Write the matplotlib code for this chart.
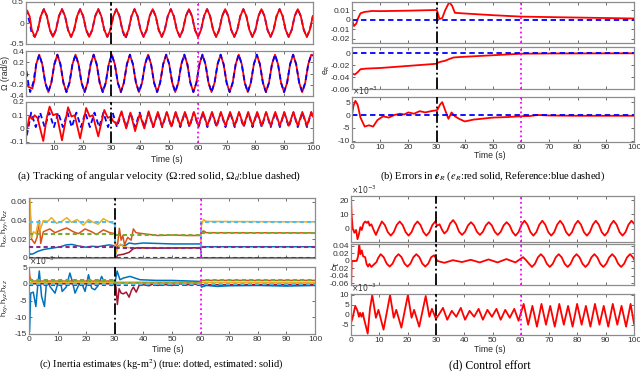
import matplotlib
matplotlib.use("Agg")
import matplotlib.pyplot as plt

plt.rcParams['font.family'] = ['Liberation Sans', 'DejaVu Sans']
plt.rcParams['axes.unicode_minus'] = False

# MATLAB default colour order
BLUE, ORANGE, YELLOW = '#0072BD', '#D95319', '#EDB120'
PURPLE, GREEN, CYAN, DRED = '#7E2F8E', '#77AC30', '#4DBEEE', '#A2142F'

switch_t = [30, 60]   # black dash-dot / magenta dotted markers

# ---------------- (a) angular velocity ----------------
# samples of the omega=1 waves every ~1/6 period (peak, half, -half, trough, ...)
a1_grid = [6.5, 7.55, 8.6, 9.65, 10.7, 11.75, 12.8, 13.85, 14.9, 15.95, 17.0, 18.05, 19.1, 20.15,
           21.2, 22.25, 23.3, 24.35, 25.4, 26.45, 27.5, 28.55, 29.6, 30.65, 31.7, 32.75, 33.8,
           34.85, 35.9, 36.95, 38.0, 39.05, 40.1, 41.15, 42.2, 43.25, 44.3, 45.35, 46.4, 47.45,
           48.5, 49.55, 50.6, 51.65, 52.7, 53.75, 54.8, 55.85, 56.9, 57.95, 59.0, 60.05, 61.1,
           62.15, 63.2, 64.25, 65.3, 66.35, 67.4, 68.45, 69.5, 70.55, 71.6, 72.65, 73.7, 74.75,
           75.8, 76.85, 77.9, 78.95, 80.0, 81.05, 82.1, 83.15, 84.2, 85.25, 86.3, 87.35, 88.4,
           89.45, 90.5, 91.55, 92.6, 93.65, 94.7, 95.75, 96.8, 97.85, 98.9, 99.95]
a1_start_t = [0, 0.7, 1.6, 2.3, 3.35, 4.4, 5.45]
a1_red = ([0.22, 0.30, 0.15, -0.16, -0.33, -0.165, 0.165]
          + [0.33, 0.165, -0.165, -0.33, -0.165, 0.165] * 15)
a1_blue = ([0.32, 0.25, 0.0, -0.25, -0.33, -0.165, 0.165]
           + [0.33, 0.165, -0.165, -0.33, -0.165, 0.165] * 4
           + [0.33, 0.165, -0.185, -0.37, -0.185, 0.165]
           + [0.33, 0.165, -0.165, -0.33, -0.165, 0.165] * 10)

a2_grid = [4.9, 5.95, 7.0, 8.05, 9.1, 10.15, 11.2, 12.25, 13.3, 14.35, 15.4, 16.45, 17.5, 18.55,
           19.6, 20.65, 21.7, 22.75, 23.8, 24.85, 25.9, 26.95, 28.0, 29.05, 30.1, 31.15, 32.2,
           33.25, 34.3, 35.35, 36.4, 37.45, 38.5, 39.55, 40.6, 41.65, 42.7, 43.75, 44.8, 45.85,
           46.9, 47.95, 49.0, 50.05, 51.1, 52.15, 53.2, 54.25, 55.3, 56.35, 57.4, 58.45, 59.5,
           60.55, 61.6, 62.65, 63.7, 64.75, 65.8, 66.85, 67.9, 68.95, 70.0, 71.05, 72.1, 73.15,
           74.2, 75.25, 76.3, 77.35, 78.4, 79.45, 80.5, 81.55, 82.6, 83.65, 84.7, 85.75, 86.8,
           87.85, 88.9, 89.95, 91.0, 92.05, 93.1, 94.15, 95.2, 96.25, 97.3, 98.35, 99.4, 100]
a2_wave = [0.335, 0.165, -0.165, -0.33, -0.165, 0.165] * 15 + [0.335, 0.32]
a2_red_start_t = [0, 0.6, 1.2, 1.75, 2.5, 3.2, 3.85]
a2_red_start = [-0.05, -0.2, -0.24, -0.25, -0.27, -0.12, 0.165]
a2_blue_start_t = [0, 0.6, 1.2, 1.75, 2.8, 3.85]
a2_blue_start = [0.2, 0.0, -0.2, -0.33, -0.165, 0.165]

a3_blue_t = [0, 2.1, 3.7, 5.2, 6.8, 8.4, 10.0, 11.5, 13.1, 14.7, 16.2, 17.8, 19.4, 20.9, 22.5,
             24.1, 25.7, 27.2, 28.8, 30.4, 31.9, 33.5, 35.1, 36.6, 38.2, 39.8, 41.4, 42.9, 44.5,
             46.1, 47.6, 49.2, 50.8, 52.3, 53.9, 55.5, 57.1, 58.6, 60.2, 61.8, 63.3, 64.9, 66.5,
             68.0, 69.6, 71.2, 72.8, 74.3, 75.9, 77.5, 79.0, 80.6, 82.2, 83.7, 85.3, 86.9, 88.5,
             90.0, 91.6, 93.2, 94.7, 96.3, 97.9, 99.4, 100]
a3_blue = [-0.12] + [0.12, 0.01] * 31 + [0.12, 0.08]
a3_red_t = [0, 0.7, 1.5, 2.5, 3.3, 4.3, 5.2, 6.3, 7.5, 8.5, 9.7, 10.9, 12.8, 14.9, 16.1, 17.2,
            19.1, 21.2, 22.4, 23.5, 25.4, 27.5, 28.7, 29.8, 30.4, 31.9, 33.5, 35.1, 36.6, 38.2,
            39.8, 41.4, 42.9, 44.5, 46.1, 47.6, 49.2, 50.8, 52.3, 53.9, 55.5, 57.1, 58.6, 60.2,
            61.8, 63.3, 64.9, 66.5, 68.0, 69.6, 71.2, 72.8, 74.3, 75.9, 77.5, 79.0, 80.6, 82.2,
            83.7, 85.3, 86.9, 88.5, 90.0, 91.6, 93.2, 94.7, 96.3, 97.9, 99.4, 100]
a3_red = ([-0.02, 0.0, 0.09, 0.07, 0.1, 0.08, 0.0, -0.095, 0.08, 0.165, 0.1, 0.11, -0.09, 0.16,
           0.09, 0.10, -0.075, 0.155, 0.09, 0.1, -0.06, 0.14, 0.08, 0.09,
           0.06, 0.03, 0.13, 0.0, 0.12, -0.02, 0.11, 0.0, 0.13, 0.01, 0.125, 0.015, 0.125, 0.015,
           0.125, 0.02, 0.125, 0.02, 0.125, 0.02] + [0.125, 0.02] * 12 + [0.125, 0.09])

# ---------------- (b) attitude errors ----------------
b1_t = [0, 0.7, 1.5, 2.2, 3.0, 4.5, 6.0, 7.0, 10, 20, 29.8, 30.2, 31.0, 32.0, 33.0, 34.5, 35.5,
        36.5, 40, 50, 60, 70, 80, 90, 100]
b1_y = [0.0, -0.0065, -0.004, 0.002, 0.007, 0.0085, 0.009, 0.0095, 0.0093, 0.0098, 0.0105,
        0.0095, 0.001, 0.002, 0.01, 0.019, 0.015, 0.0075, 0.0068, 0.005, 0.0035, 0.003, 0.0025,
        0.002, 0.0015]
b2_t = [0, 1.0, 2.0, 3.0, 5, 10, 20, 29.8, 30.3, 31.5, 33, 34.5, 36, 38, 45, 60, 70, 100]
b2_y = [-0.034, -0.036, -0.032, -0.027, -0.026, -0.025, -0.0215, -0.018, -0.0165, -0.0145,
        -0.013, -0.01, -0.0075, -0.0068, -0.005, -0.0012, -0.0008, -0.0005]
b3_t = [0, 0.5, 1.2, 2.0, 3.0, 4.5, 6.0, 7.5, 9.0, 11.0, 13.0, 15.0, 17.0, 18.5, 20.0, 22.0,
        24.0, 26.0, 28.0, 29.8, 30.3, 31.2, 32.0, 33.0, 34.2, 35.3, 36.5, 38.0, 40.0, 43.0, 50.0,
        55.0, 60.0, 63.0, 66.0, 70.0, 80.0, 100.0]
b3_y = [0, 3.5, 5.5, 4.0, -1.0, -4.5, -4.0, -4.5, -2.0, -0.5, -1.0, 0.0, 0.5, 0.2, 1.0, 0.5,
        1.5, 1.0, 1.5, 1.8, 2.0, 4.0, 5.0, 2.0, -1.5, 1.0, -0.5, -1.5, -2.5, -1.8, -1.0, -0.8,
        -0.5, -0.4, 0.0, -0.2, -0.3, -0.3]          # x 1e-3
ref_t = [0, 100]
ref_y = [0, 0]

# ---------------- (c) inertia estimates ----------------
true_t = [0, 30, 30, 60, 60, 100]
c1_true_cyan = [0.038, 0.038, 0.0, 0.0, 0.038, 0.038]
c1_true_green = [0.026, 0.026, 0.025, 0.025, 0.027, 0.027]
c1_true_purple = [0.012, 0.012, 0.011, 0.011, 0.012, 0.012]
c1_true_dred = [0, 0, 0, 0, 0, 0]

c1_yel_t = [0, 0.3, 0.9, 1.6, 2.4, 3.3, 3.9, 5.0, 6.5, 7.9, 9.6, 11.4, 13.2, 14.9, 16.8, 19.0,
            20.8, 22.5, 24.2, 26.0, 27.7, 30.0, 30.3, 31.0, 32.0, 33.0, 35.0, 40.0, 50.0, 55.0,
            60.0, 60.3, 61.0, 62.0, 100]
c1_yel = [0.045, 0.064, 0.022, 0.028, 0.026, 0.039, 0.030, 0.040, 0.039, 0.043, 0.037, 0.039,
          0.043, 0.038, 0.041, 0.035, 0.041, 0.038, 0.036, 0.042, 0.039, 0.036, 0.005, 0.010,
          0.015, 0.012, 0.011, 0.0105, 0.011, 0.0105, 0.011, 0.035, 0.041, 0.039, 0.0385]
c1_org_t = [0, 0.2, 0.9, 2.0, 2.8, 3.6, 4.1, 5.0, 7.3, 9.1, 11.4, 13.2, 15.5, 17.3, 19.6, 21.9,
            23.6, 26.0, 28.3, 30.0, 30.3, 31.0, 31.6, 32.2, 32.8, 33.4, 34.5, 35.7, 36.5, 37.4,
            39.7, 45.0, 50.0, 55.0, 60.0, 60.3, 61.0, 62.0, 100]
c1_org = [0.02, 0.06, 0.02, 0.0155, 0.022, 0.04, 0.0155, 0.028, 0.031, 0.027, 0.030, 0.032,
          0.028, 0.026, 0.031, 0.028, 0.025, 0.030, 0.027, 0.026, 0.012, 0.015, 0.0316, 0.019,
          0.024, 0.014, 0.022, 0.019, 0.031, 0.027, 0.026, 0.024, 0.0245, 0.024, 0.024, 0.027,
          0.029, 0.027, 0.0268]
c1_blu_t = [0, 0.5, 1.5, 3.0, 5.0, 8.0, 11.0, 13.0, 15.0, 17.0, 20.0, 22.0, 24.0, 26.0, 28.0,
            30.0, 30.3, 31.0, 32.0, 33.5, 35.0, 37.0, 40.0, 50.0, 60.0, 60.3, 100]
c1_blu = [0.006, 0.004, 0.0045, 0.007, 0.009, 0.0105, 0.012, 0.014, 0.0145, 0.013, 0.0115,
          0.0125, 0.012, 0.013, 0.014, 0.013, 0.004, 0.012, 0.014, 0.013, 0.016, 0.015, 0.016,
          0.015, 0.015, 0.012, 0.012]
c1_dred_t = [0, 30, 30.3, 31, 33, 35, 36.5, 38, 45, 60, 60.3, 100]
c1_dred = [0, 0, 0.0, 0.003, 0.004, 0.006, 0.01, 0.011, 0.0105, 0.011, 0, 0]

c2_true_green = [1.0, 1.0, 0.3, 0.3, 1.0, 1.0]      # x 1e-3
c2_true_purple = [-0.5, -0.5, -0.5, -0.5, -0.5, -0.5]
c2_true_cyan = [0, 0, 0, 0, 0, 0]
c2_blu_t = [0, 0.2, 0.6, 1.5, 2.4, 3.0, 3.6, 4.4, 5.4, 6.2, 7.3, 9.1, 10.2, 10.9, 11.6, 13.0,
            14.3, 15.2, 16.1, 17.3, 18.4, 19.6, 20.8, 21.9, 23.0, 24.2, 25.4, 26.5, 27.7, 28.8,
            30.0, 30.8, 31.8, 33.0, 35.3, 38.8, 44.6, 50.0, 59.8, 60.3, 62.0, 66.0, 70.0, 80.0,
            90.0, 100.0]
c2_blu = [0, -14.3, -2.8, -2.5, -6.8, -1.0, 3.8, -3.8, -6.8, 1.2, -0.8, -2.8, 0.5, 1.2, -2.3,
          -1.0, 3.2, 0.5, -2.8, -0.5, 0.2, -2.3, 2.7, -1.3, -1.8, -0.5, 2.2, 0.0, 0.7, -0.5, 0.0,
          3.8, 1.2, 1.7, 2.2, 1.2, 1.0, 1.0, 0.7, -1.0, -0.5, -0.8, -0.6, -0.5, -0.7, -0.5]
c2_org_t = [0, 0.3, 1.0, 30, 30.3, 60, 60.3, 100]
c2_org = [5, 2, 0.8, 0.8, 0.4, 0.4, 1.0, 1.0]
c2_yel_t = [0, 30, 30.3, 60, 60.3, 100]
c2_yel = [0.4, 0.4, 0.2, 0.2, 0.4, 0.4]
c2_dred_t = [0, 30, 30.4, 30.9, 31.5, 32.2, 33.0, 34.0, 35.0, 35.8, 36.5, 37.5, 38.5, 40.0,
             42.0, 43.5, 45.0, 47.0, 50.0, 53.0, 55.0, 57.0, 60.0, 100]
c2_dred = [0, 0, -1.0, -6.2, -1.5, -2.8, -3.0, -2.5, -4.0, -2.0, -1.0, -2.5, -0.5, -0.3, -0.6,
           0.0, -0.5, -0.2, -0.5, 0.0, -0.4, 0.0, -0.3, -0.2]

# ---------------- (d) control effort ----------------
d1_t = [0, 0.2, 0.6, 1.2, 1.8, 2.3, 2.8, 3.3, 3.8, 4.4, 5.0, 5.6, 6.1, 6.6, 7.2, 8.0, 8.8, 9.85,
        10.9, 11.95, 13.0, 14.05, 15.1, 16.15, 17.2, 18.25, 19.3, 20.35, 21.4, 22.45, 23.5,
        24.55, 25.6, 26.65, 27.7, 28.75, 29.8,
        30.4, 31.3, 32.2, 33.0, 34.0, 35.0,
        36.1, 37.15, 38.2, 39.25, 40.3, 41.35, 42.4, 43.45, 44.5, 45.55, 46.6, 47.65, 48.7,
        49.75, 50.8, 51.85, 52.9, 53.95, 55.0, 56.05, 57.1, 58.15, 59.2, 60.25,
        61.3, 62.35, 63.4, 64.45, 65.5, 66.55, 67.6, 68.65, 69.7, 70.75, 71.8, 72.85, 73.9,
        74.95, 76.0, 77.05, 78.1, 79.15, 80.2, 81.25, 82.3, 83.35, 84.4, 85.45, 86.5, 87.55,
        88.6, 89.65, 90.7, 91.75, 92.8, 93.85, 94.9, 95.95, 97.0, 98.05, 99.1, 100]
d1_y = ([22, 10, 0, -3, -1, -7.5, -4, 1, -1, 3.5, 5, 4, 5, 2, 3, -1, -4.5, 0.5]
        + [5, 2.5, -2.5, -5, -2.5, 2.5] * 3 + [5]
        + [2, 3, -1, -3.5, -1.5, 3.5]
        + [6, 3, -2.25, -4.5, -2.25, 2.25] + [4.5, 2.25, -2.25, -4.5, -2.25, 2.25] * 2
        + [4.5, 2.25, -2.5, -5, -2.5, 2.75]
        + [5.5, 2.75, -2.5, -5, -2.5, 2.75] * 6 + [5.5, 3.5])          # x 1e-3
d2_t = [0, 0.05, 0.25, 2.0, 2.5, 2.9, 3.3, 3.8, 4.3, 5.0, 5.5, 6.0, 6.5, 7.2, 8.0, 9.0, 9.6,
        10.5, 11.55, 12.6, 13.65, 14.7, 15.75, 16.8, 17.85, 18.9, 19.95, 21.0, 22.05, 23.1,
        24.15, 25.2, 26.25, 27.3, 28.35, 29.4,
        30.5, 33.0, 36.0, 39.2, 42.3, 45.5, 48.6, 51.8, 54.9, 58.1, 60.0,
        60.8, 61.85, 62.9, 63.95, 65.0, 66.05, 67.1, 68.15, 69.2, 70.25, 71.3, 72.35, 73.4,
        74.45, 75.5, 76.55, 77.6, 78.65, 79.7, 80.75, 81.8, 82.85, 83.9, 84.95, 86.0, 87.05,
        88.1, 89.15, 90.2, 91.25, 92.3, 93.35, 94.4, 95.45, 96.5, 97.55, 98.6, 99.65, 100]
d2_y = ([0, -0.062, 0.0, 0.0, 0.012, 0.045, 0.018, 0.028, 0.012, 0.01, -0.008, -0.015, -0.008,
         -0.016, -0.01, -0.003, 0.008]
        + [0.018, 0.01, -0.007, -0.015, -0.007, 0.01] * 3 + [0.015]
        + [0.0, -0.005, 0.002, -0.003, 0.003, -0.004, 0.004, -0.004, 0.005, -0.004, 0.006]
        + [0.01, 0.002, -0.0075, -0.016, -0.0075, 0.0095]
        + [0.018, 0.0095, -0.0075, -0.016, -0.0075, 0.0095] * 5 + [0.018, 0.0095, 0.004])
d3_t = [0, 0.5, 1.5, 2.3, 2.8, 3.2, 3.7, 4.2, 4.6, 5.3, 5.9, 6.7, 7.5, 8.8, 9.7, 11.5, 13.8,
        15.1, 16.0, 17.8, 20.1, 21.4, 22.3, 24.1, 26.4, 27.7, 28.6, 30.0,
        31.0, 32.5, 34.0, 35.6, 37.2, 38.8, 40.3, 41.9, 43.5, 45.1, 46.6, 48.2, 49.8, 51.4,
        52.9, 54.5, 56.1, 57.7, 59.2,
        61.0, 62.6, 64.1, 65.7, 67.3, 68.9, 70.4, 72.0, 73.6, 75.2, 76.7, 78.3, 79.9, 81.5,
        83.0, 84.6, 86.2, 87.8, 89.3, 90.9, 92.5, 94.1, 95.6, 97.2, 98.8, 100]
d3_y = ([-4, -2, 4.5, 2, -1, 1, -1, 1, -2, -6, -9.5, 3, 10, -1.5, 2.5, -7.5, 10, -1.5, 2.5,
         -6.5, 10, -1.5, 2.5, -6, 9.5, -1, 3, -2,
         0, 3.5, -2.5, 2.0, -1.0, 3.5, -2.5, 2.0, -1.0, 3.0, -2.5, 2.5, -1.0, 3.0, -2.5, 2.5,
         -1.5, 3.0, -3.0]
        + [5.5, -5, 4.5, -6] * 6 + [5.5, -4.5])   # x 1e-3

# ---------------- layout helpers ----------------
W, H = 640, 371
fig = plt.figure(figsize=(W / 100, H / 100), dpi=100)


def px(x, y):
    return x / W, 1 - y / H


def add_ax(x0, y0, x1, y1):
    return fig.add_axes([x0 / W, 1 - y1 / H, (x1 - x0) / W, (y1 - y0) / H])


def style(ax, ylim, yticks, xlim=(0, 100), xticks=range(0, 101, 10), xlabels=False):
    ax.set_xlim(*xlim)
    ax.set_ylim(*ylim)
    ax.set_xticks(list(xticks))
    ax.set_yticks(yticks)
    ax.set_yticklabels([f'{v:g}' for v in yticks])
    if xlabels:
        ax.set_xticklabels([f'{v:g}' for v in xticks])
    else:
        ax.set_xticklabels([])
    ax.tick_params(direction='in', length=2, width=0.5, top=True, right=True,
                   labelsize=6, colors='0.2', pad=1.5)
    for s in ax.spines.values():
        s.set_color('0.55')
        s.set_linewidth(0.9)
    ax.axvline(switch_t[0], color='k', ls='-.', lw=1.3, zorder=5)
    ax.axvline(switch_t[1], color='magenta', ls=':', lw=1.3, zorder=5)


def exp_label(ax):
    ax.text(0.0, 1.005, r'$\times10^{-3}$', transform=ax.transAxes, ha='left', va='bottom',
            fontsize=5.5, color='0.2', math_fontfamily='dejavusans')


RED_KW = dict(color='red', lw=1.3)
BLUE_KW = dict(color='blue', lw=1.3, ls=(0, (3, 2)))
cap_kw = dict(family='Liberation Serif', ha='center', va='center', math_fontfamily='stix')
lab_kw = dict(fontsize=6.2, color='0.15', ha='center', va='center')

# (a)
ax = add_ax(26, 2, 313, 44)
ax.plot(a1_start_t + a1_grid, a1_blue, **BLUE_KW)
ax.plot(a1_start_t + a1_grid, a1_red, **RED_KW)
style(ax, (-0.5, 0.5), [-0.5, 0, 0.5], xlim=(0.3, 100), xticks=range(10, 101, 10))
ax = add_ax(26, 51, 313, 96)
ax.plot(a2_red_start_t + a2_grid, a2_red_start + a2_wave, **RED_KW)
ax.plot(a2_blue_start_t + a2_grid, a2_blue_start + a2_wave, **BLUE_KW)
style(ax, (-0.4, 0.4), [-0.4, -0.2, 0, 0.2, 0.4], xlim=(0.3, 100), xticks=range(10, 101, 10))
ax = add_ax(26, 102, 313, 143)
ax.plot(a3_blue_t, a3_blue, **BLUE_KW)
ax.plot(a3_red_t, a3_red, **RED_KW)
style(ax, (-0.11, 0.2), [-0.1, 0, 0.1, 0.2], xlim=(0.3, 100), xticks=range(10, 101, 10),
      xlabels=True)
fig.text(*px(6, 73), 'Ω (rad/s)', rotation=90, **lab_kw)
fig.text(*px(167, 160), 'Time (s)', **lab_kw)
fig.text(*px(159, 176), '(a) Tracking of angular velocity (Ω:red solid, Ω$_d$:blue dashed)',
         fontsize=8.2, **cap_kw)

# (b)
ax = add_ax(352, 2, 634, 43)
ax.plot(b1_t, b1_y, **RED_KW)
ax.plot(ref_t, ref_y, **BLUE_KW)
style(ax, (-0.0245, 0.019), [-0.02, -0.01, 0, 0.01])
ax = add_ax(352, 47, 634, 89)
ax.plot(b2_t, b2_y, **RED_KW)
ax.plot(ref_t, ref_y, **BLUE_KW)
style(ax, (-0.06, 0.01), [-0.06, -0.04, -0.02, 0])
ax = add_ax(352, 97, 634, 142)
ax.plot(b3_t, b3_y, **RED_KW)
ax.plot(ref_t, ref_y, **BLUE_KW)
style(ax, (-10.5, 7), [-10, -5, 0, 5], xlabels=True)
exp_label(ax)
fig.text(*px(327, 70), 'e$_R$', rotation=90, math_fontfamily='dejavusans', **lab_kw)
fig.text(*px(490, 155), 'Time (s)', **lab_kw)
fig.text(*px(492, 176), r'(b) Errors in $\mathbfit{e}_R$ ($e_R$:red solid, Reference:blue dashed)',
         fontsize=7.6, **cap_kw)

# (c)
TRUE_KW = dict(lw=1.5, ls=(0, (2, 1.5)), zorder=3)
ax = add_ax(29, 198, 315, 258)
ax.plot(c1_blu_t, c1_blu, color=BLUE, lw=1.1)
ax.plot(c1_org_t, c1_org, color=ORANGE, lw=1.1)
ax.plot(c1_yel_t, c1_yel, color=YELLOW, lw=1.1)
ax.plot(c1_dred_t, c1_dred, color=DRED, lw=1.1)
ax.plot(true_t, c1_true_purple, color=PURPLE, **TRUE_KW)
ax.plot(true_t, c1_true_green, color=GREEN, **TRUE_KW)
ax.plot(true_t, c1_true_cyan, color=CYAN, **TRUE_KW)
ax.plot(true_t, c1_true_dred, color=DRED, **TRUE_KW)
style(ax, (0, 0.064), [0, 0.02, 0.04, 0.06])
ax = add_ax(29, 267, 315, 334)
ax.plot(c2_blu_t, c2_blu, color=BLUE, lw=1.1)
ax.plot(c2_org_t, c2_org, color=ORANGE, lw=1.1)
ax.plot(c2_yel_t, c2_yel, color=YELLOW, lw=1.1)
ax.plot(c2_dred_t, c2_dred, color=DRED, lw=1.1)
ax.plot(true_t, c2_true_purple, color=PURPLE, **TRUE_KW)
ax.plot(true_t, c2_true_green, color=GREEN, **TRUE_KW)
ax.plot(true_t, c2_true_cyan, color=CYAN, **TRUE_KW)
style(ax, (-15, 5), [-15, -10, -5, 0, 5], xlabels=True)
exp_label(ax)
h_kw = dict(lab_kw, fontsize=5.5)
fig.text(*px(5.5, 228), 'h$_{xx}$,h$_{yy}$,h$_{zz}$', rotation=90, math_fontfamily='dejavusans',
         **h_kw)
fig.text(*px(5.5, 298), 'h$_{xy}$,h$_{yz}$,h$_{xz}$', rotation=90, math_fontfamily='dejavusans',
         **h_kw)
fig.text(*px(168, 349), 'Time (s)', **lab_kw)
fig.text(*px(161, 365), '(c) Inertia estimates (kg-m$^2$) (true: dotted, estimated: solid)',
         fontsize=7.4, **cap_kw)

# (d)
ax = add_ax(351, 196, 634, 242)
ax.plot(d1_t, d1_y, **RED_KW)
style(ax, (-9.5, 23), [0, 10, 20])
exp_label(ax)
ax = add_ax(351, 244, 634, 285)
ax.plot(d2_t, d2_y, **RED_KW)
style(ax, (-0.064, 0.045), [-0.06, -0.04, -0.02, 0, 0.02, 0.04])
ax = add_ax(351, 294, 634, 335)
ax.plot(d3_t, d3_y, **RED_KW)
style(ax, (-10.2, 10.5), [-5, 0, 5, 10], xlabels=True)
exp_label(ax)
fig.text(*px(336, 264), 'τ', rotation=90, **lab_kw)
fig.text(*px(490, 349), 'Time (s)', **lab_kw)
fig.text(*px(490, 365), '(d) Control effort', fontsize=8.5, **cap_kw)

fig.savefig('out.png', dpi=100)
